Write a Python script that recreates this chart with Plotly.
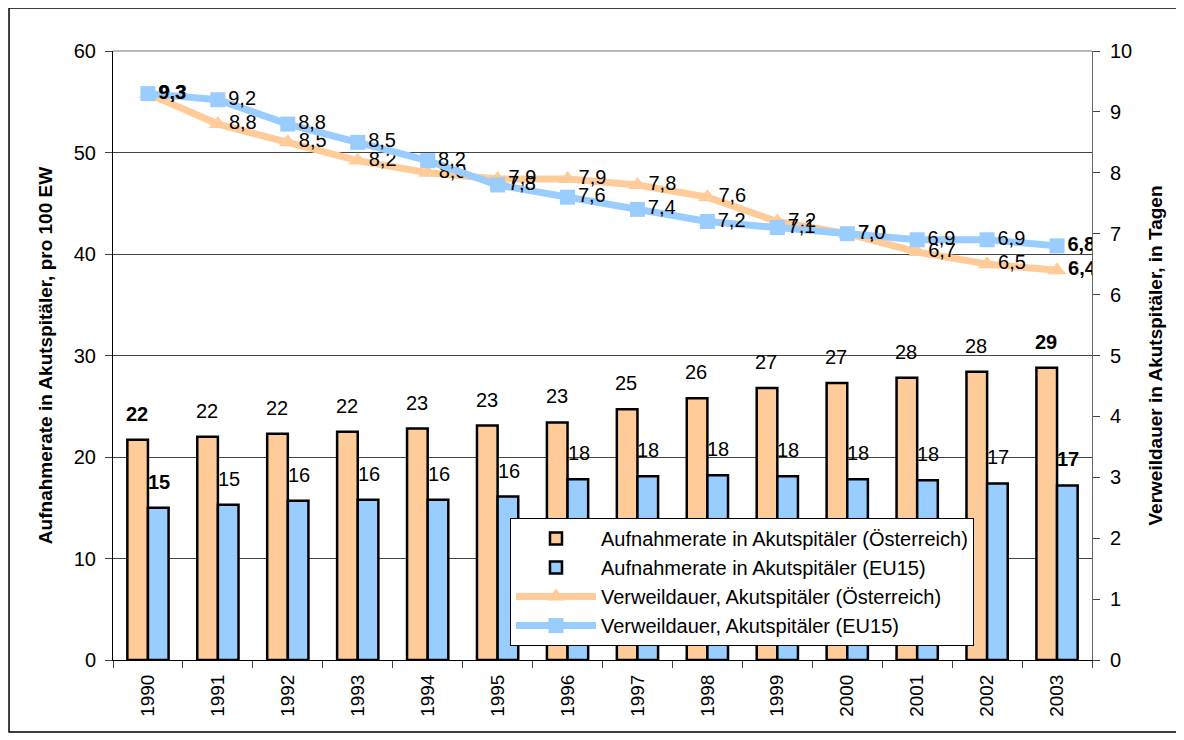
import plotly.graph_objects as go

years = ["1990", "1991", "1992", "1993", "1994", "1995", "1996",
         "1997", "1998", "1999", "2000", "2001", "2002", "2003"]
aufnahme_at = [21.7, 22.0, 22.3, 22.5, 22.8, 23.1, 23.4, 24.7, 25.8, 26.8, 27.3, 27.8, 28.4, 28.8]
aufnahme_eu = [15.0, 15.3, 15.7, 15.8, 15.8, 16.1, 17.8, 18.1, 18.2, 18.1, 17.8, 17.7, 17.4, 17.2]
verweil_at = [9.3, 8.8, 8.5, 8.2, 8.0, 7.9, 7.9, 7.8, 7.6, 7.2, 7.0, 6.7, 6.5, 6.4]
verweil_eu = [9.3, 9.2, 8.8, 8.5, 8.2, 7.8, 7.6, 7.4, 7.2, 7.1, 7.0, 6.9, 6.9, 6.8]

names = ["Aufnahmerate in Akutspitäler (Österreich)",
         "Aufnahmerate in Akutspitäler (EU15)",
         "Verweildauer, Akutspitäler (Österreich)",
         "Verweildauer, Akutspitäler (EU15)"]

ORANGE = "#FFCC99"
BLUE = "#99CCFF"
FONT = "Arial, Liberation Sans, sans-serif"
n = len(years)


def fmt(v, dec, i):
    s = f"{v:.{dec}f}".replace(".", ",")
    return f"<b>{s}</b>" if i in (0, n - 1) else s


fig = go.Figure()
fig.add_trace(go.Bar(x=years, y=aufnahme_at, name=names[0], legendgroup="a",
                     marker=dict(color=ORANGE, line=dict(color="black", width=2.5)), yaxis="y"))
fig.add_trace(go.Bar(x=years, y=aufnahme_eu, name=names[1], legendgroup="b",
                     marker=dict(color=BLUE, line=dict(color="black", width=2.5)), yaxis="y"))
fig.add_trace(go.Scatter(x=years, y=verweil_at, name=names[2], legendgroup="c", yaxis="y2", mode="lines+markers+text",
                         line=dict(color=ORANGE, width=7), marker=dict(symbol="triangle-up", size=16, color=ORANGE),
                         text=[fmt(v, 1, i) for i, v in enumerate(verweil_at)], textposition="middle right",
                         textfont=dict(family=FONT, size=20, color="black")))
fig.add_trace(go.Scatter(x=years, y=verweil_eu, name=names[3], legendgroup="d", yaxis="y2", mode="lines+markers+text",
                         line=dict(color=BLUE, width=7), marker=dict(symbol="square", size=15, color=BLUE),
                         text=[fmt(v, 1, i) for i, v in enumerate(verweil_eu)], textposition="middle right",
                         textfont=dict(family=FONT, size=20, color="black")))

annotations = []
for i in range(n):
    annotations.append(dict(x=i, y=aufnahme_at[i], xref="x", yref="y", text=fmt(aufnahme_at[i], 0, i),
                            showarrow=False, xshift=-11, yshift=26, font=dict(family=FONT, size=20, color="black")))
    annotations.append(dict(x=i, y=aufnahme_eu[i], xref="x", yref="y", text=fmt(aufnahme_eu[i], 0, i),
                            showarrow=False, xshift=11, yshift=26, font=dict(family=FONT, size=20, color="black")))

fig.update_layout(
    width=1176, height=732,
    margin=dict(l=105, r=92, t=43, b=80),
    paper_bgcolor="white", plot_bgcolor="white",
    font=dict(family=FONT, size=17, color="black"),
    separators=",.",
    barmode="group", bargap=0.41, bargroupgap=0,
    showlegend=True,
    legend=dict(x=0.4055, y=0.233, xanchor="left", yanchor="top", bgcolor="white",
                bordercolor="black", borderwidth=1, font=dict(family=FONT, size=20),
                itemwidth=80, traceorder="normal", tracegroupgap=7),
    xaxis=dict(type="category", range=[-0.5, n - 0.5], tickangle=-90, ticks="outside", tickson="boundaries", ticklen=7,
               showline=True, linecolor="black", linewidth=1, showgrid=False, ticklabelstandoff=6,
               tickfont=dict(family=FONT, size=19)),
    yaxis=dict(range=[0, 60], dtick=10, ticks="outside", ticklen=7, showline=True, linecolor="black",
               linewidth=1, showgrid=True, gridcolor="#444", gridwidth=1, zeroline=False, ticklabelstandoff=5,
               tickfont=dict(family=FONT, size=20),
               title=dict(text="<b>Aufnahmerate in Akutspitäler, pro 100 EW</b>", font=dict(family=FONT, size=19), standoff=16)),
    yaxis2=dict(range=[0, 10], dtick=1, overlaying="y", side="right", ticks="outside", ticklen=7,
                showline=True, linecolor="#666", linewidth=1, showgrid=False, zeroline=False, ticklabelstandoff=6,
                tickfont=dict(family=FONT, size=20),
                title=dict(text="<b>Verweildauer in Akutspitäler, in Tagen</b>", font=dict(family=FONT, size=19), standoff=17)),
    annotations=annotations,
    shapes=[
        dict(type="line", xref="paper", yref="paper", x0=0, x1=1, y0=1, y1=1, line=dict(color="#777", width=1)),
        dict(type="rect", xref="paper", yref="paper", x0=-0.1062, x1=1.0925, y0=-0.1182, y1=1.0706,
             line=dict(color="black", width=1.5), fillcolor="rgba(0,0,0,0)", layer="below"),
    ],
)

fig.write_html("out.html")
